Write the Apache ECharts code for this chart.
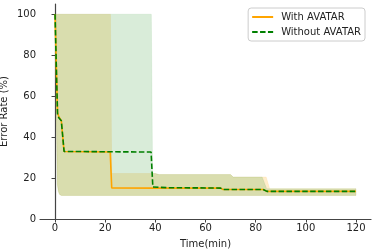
<!DOCTYPE html>
<html><head><meta charset="utf-8">
<script src="https://cdn.jsdelivr.net/npm/echarts@6/dist/echarts.min.js"></script>
<style>html,body{margin:0;padding:0;background:#fff}#c{width:374px;height:249px}</style>
</head><body><div id="c"></div>
<script>
// Tick labels
const xTicks = [0, 20, 40, 60, 80, 100, 120];
const yTicks = [0, 20, 40, 60, 80, 100];
const seriesNames = ['With AVATAR', 'Without AVATAR'];

// Mean error-rate curves [time(min), error %]
const withAvatar = [[0,100],[0.5,75],[1,52],[1.5,50],[2.5,48],[3,47.5],[3.6,33],[4,32.7],[22,32.7],[22.6,15.2],[40,15.1],[66,15.1],[67,14.4],[83,14.4],[84.5,13.5],[120,13.5]];
const withoutAvatar = [[0,100],[0.5,75],[1,51],[1.5,49.5],[2.5,48],[3,47.5],[3.6,33],[4,32.7],[38.3,32.7],[39,15.6],[45,15.3],[66,15.1],[67,14.4],[83,14.4],[84.5,13.5],[120,13.5]];

// Shaded ranges (upper / lower bounds)
const withUpper = [[0,100],[22.1,100],[22.6,22.2],[40,22.2],[41.5,21.7],[70,21.7],[71,20.5],[84.2,20.5],[85.6,14.8],[120,14.8]];
const withoutUpper = [[0,100],[38.4,100],[38.9,22.2],[40,22.2],[41.5,21.7],[70,21.7],[71,20.5],[82.6,20.5],[84.4,14.8],[120,14.8]];
const bandLower = [[0,100],[0.9,17],[1.3,13.5],[1.8,12],[2.5,11.5],[120,11.5]];

const FONT = 'DejaVu Sans';

function band(name, upper, lower, color) {
  const poly = upper.concat(lower.slice().reverse());
  return {
    type: 'custom', name: name, silent: true, z: 1,
    data: [0],
    renderItem: function (params, api) {
      const pts = poly.map(p => api.coord(p));
      return { type: 'polygon', shape: { points: pts }, style: { fill: color, stroke: color, lineWidth: 0.5 } };
    }
  };
}

const chart = echarts.init(document.getElementById('c'), null, { renderer: 'canvas' });
chart.setOption({
  animation: false,
  grid: { left: 40, right: 3, top: 4, bottom: 30, containLabel: false, outerBoundsMode: 'none' },
  legend: {
    data: seriesNames,
    orient: 'vertical', right: 9, top: 8,
    itemWidth: 21, itemHeight: 12, itemGap: 5,
    borderColor: '#cccccc', borderWidth: 1, borderRadius: 3,
    padding: [4, 4, 4, 3], backgroundColor: '#fff',
    itemStyle: { opacity: 0 },
    textStyle: { fontFamily: FONT, fontSize: 10, color: '#222', padding: [0, 0, 0, 3] }
  },
  xAxis: {
    type: 'value', min: -6, max: 126,
    name: 'Time(min)', nameLocation: 'middle', nameGap: 20, nameMoveOverlap: false,
    nameTextStyle: { fontFamily: FONT, fontSize: 10, color: '#222' },
    axisLine: { show: true, lineStyle: { color: '#444', width: 1.2 } },
    axisTick: { show: true, inside: false, length: 3.5, customValues: xTicks, lineStyle: { color: '#444' } },
    axisLabel: { customValues: xTicks, fontFamily: FONT, fontSize: 10, color: '#222', margin: 4 },
    splitLine: { show: false }
  },
  yAxis: {
    type: 'value', min: 0, max: 105,
    name: 'Error Rate (%)', nameLocation: 'middle', nameGap: 31, nameMoveOverlap: false,
    nameTextStyle: { fontFamily: FONT, fontSize: 10, color: '#222' },
    axisLine: { show: true, lineStyle: { color: '#444', width: 1.2 } },
    axisTick: { show: true, inside: false, length: 3.5, customValues: yTicks, lineStyle: { color: '#444' } },
    axisLabel: { customValues: yTicks, fontFamily: FONT, fontSize: 10, color: '#222', margin: 4 },
    splitLine: { show: false }
  },
  series: [
    band('bandWith', withUpper, bandLower, 'rgba(255,165,0,0.2)'),
    band('bandWithout', withoutUpper, bandLower, 'rgba(0,128,0,0.15)'),
    {
      name: seriesNames[0], type: 'line', data: withAvatar, symbol: 'none', z: 3,
      itemStyle: { color: '#FFA500' },
      lineStyle: { color: '#FFA500', width: 1.6 }
    },
    {
      name: seriesNames[1], type: 'line', data: withoutAvatar, symbol: 'none', z: 4,
      itemStyle: { color: '#008000' },
      lineStyle: { color: '#008000', width: 1.6, type: [5.5, 2.4] }
    }
  ]
});
</script></body></html>
